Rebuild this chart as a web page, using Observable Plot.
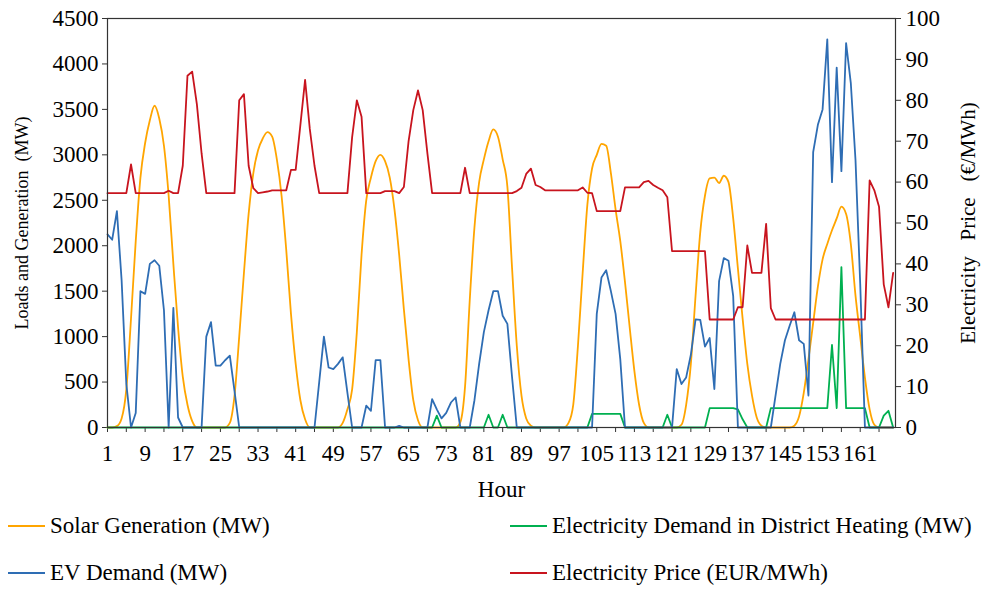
<!DOCTYPE html>
<html>
<head>
<meta charset="utf-8">
<script src="https://cdn.jsdelivr.net/npm/d3@7"></script>
<script src="https://cdn.jsdelivr.net/npm/@observablehq/plot@0.6"></script>
<style>
  body { margin: 0; background: #fff; font-family: "Liberation Serif", "Times New Roman", "DejaVu Serif", serif; }
  #chart svg { display: block; }
  .legend { position: relative; width: 992px; height: 84px; font-size: 23px; color: #000; }
  .item { position: absolute; display: flex; align-items: center; white-space: nowrap; }
  .sw { width: 37px; height: 2px; margin-right: 5px; }
</style>
</head>
<body>
<div id="chart"></div>
<div class="legend" id="legend"></div>
<script>
// ---- data (hours 1..168) ----
const hours = d3.range(1, 169);

const solarGeneration = [
  0, 0, 15, 100, 420, 1200, 2050, 2750, 3130, 3380, 3540, 3400, 3100, 2550, 1800, 1100, 560, 250, 70, 0,
  0, 0, 0, 0, 0, 0, 50, 350, 1000, 1700, 2350, 2800, 3050, 3180, 3250, 3200, 2950, 2550, 1950, 1250,
  700, 300, 90, 0, 0, 0, 0, 0, 0, 0, 50, 200, 420, 1050, 1900, 2500, 2750, 2930, 3000, 2930,
  2750, 2400, 1900, 1300, 750, 300, 80, 0, 0, 0, 0, 0, 0, 0, 0, 60, 450, 1400, 2200, 2700,
  2950, 3150, 3280, 3200, 2950, 2650, 1750, 900, 350, 100, 20, 0, 0, 0, 0, 0, 0, 0, 50, 250,
  900, 1700, 2450, 2850, 3000, 3120, 3100, 2800, 2400, 2050, 1600, 1100, 620, 250, 50, 0, 0, 0, 0, 0,
  0, 0, 30, 250, 700, 1450, 2150, 2550, 2740, 2750, 2690, 2770, 2700, 2300, 1750, 1200, 700, 350, 110, 20,
  0, 0, 0, 0, 0, 0, 20, 120, 380, 750, 1150, 1550, 1850, 2020, 2170, 2300, 2430, 2350, 2020, 1450,
  1000, 550, 200, 30, 0, 0, 0, 0
];

const evDemand = [
  2125, 2066, 2380, 1620, 480, 0, 160, 1500, 1470, 1800, 1840, 1780, 1290, 0, 1316, 110, 0, 0, 0, 0,
  0, 1000, 1160, 680, 680, 740, 790, 400, 0, 0, 0, 0, 0, 0, 0, 0, 0, 0, 0, 0,
  0, 0, 0, 0, 0, 500, 1000, 660, 643, 700, 772, 380, 0, 0, 0, 240, 184, 742, 742, 0,
  0, 0, 18, 0, 0, 0, 0, 0, 0, 312, 200, 100, 160, 275, 330, 0, 0, 0, 300, 700,
  1050, 1290, 1500, 1500, 1230, 1140, 550, 0, 0, 0, 0, 0, 0, 0, 0, 0, 0, 0, 0, 0,
  0, 0, 0, 0, 1250, 1650, 1730, 1500, 1250, 750, 0, 0, 0, 0, 0, 0, 0, 0, 0, 0,
  0, 643, 478, 551, 800, 1190, 1185, 890, 985, 423, 1610, 1864, 1835, 1445, 0, 0, 0, 0, 0, 0,
  0, 0, 350, 700, 960, 1120, 1268, 960, 920, 350, 3030, 3330, 3500, 4270, 2700, 3960, 2820, 4230, 3790, 2940,
  1580, 0, 0, 0, 0, 0, 0, 0
];

const districtHeating = [
  0, 0, 0, 0, 0, 0, 0, 0, 0, 0, 0, 0, 0, 0, 0, 0, 0, 0, 0, 0,
  0, 0, 0, 0, 0, 0, 0, 0, 0, 0, 0, 0, 0, 0, 0, 0, 0, 0, 0, 0,
  0, 0, 0, 0, 0, 0, 0, 0, 0, 0, 0, 0, 0, 0, 0, 0, 0, 0, 0, 0,
  0, 0, 0, 0, 0, 0, 0, 0, 0, 0, 130, 0, 0, 0, 0, 0, 0, 0, 0, 0,
  0, 140, 0, 0, 140, 0, 0, 0, 0, 0, 0, 0, 0, 0, 0, 0, 0, 0, 0, 0,
  0, 0, 0, 150, 150, 150, 150, 150, 150, 150, 0, 0, 0, 0, 0, 0, 0, 0, 0, 140,
  0, 0, 0, 0, 0, 0, 0, 0, 213, 213, 213, 213, 213, 213, 200, 90, 0, 0, 0, 0,
  0, 213, 213, 213, 213, 213, 213, 213, 213, 213, 213, 213, 213, 213, 908, 213, 1765, 213, 213, 213,
  213, 213, 0, 0, 0, 130, 184, 0
];

const electricityPrice = [
  57.3, 57.3, 57.3, 57.3, 57.3, 64.3, 57.3, 57.3, 57.3, 57.3, 57.3, 57.3, 57.3, 57.9, 57.3, 57.3, 64, 86, 87, 79,
  67, 57.3, 57.3, 57.3, 57.3, 57.3, 57.3, 57.3, 80, 81.5, 64, 58.5, 57.3, 57.5, 57.7, 58, 58, 58, 58, 63,
  63, 74, 85, 73, 64, 57.3, 57.3, 57.3, 57.3, 57.3, 57.3, 57.3, 71, 80, 76, 57.3, 57.3, 57.3, 57.3, 57.8,
  57.8, 57.8, 57.3, 58.8, 70, 77.6, 82.4, 77.6, 67, 57.3, 57.3, 57.3, 57.3, 57.3, 57.3, 57.3, 63.5, 57.3, 57.3, 57.3,
  57.3, 57.3, 57.3, 57.3, 57.3, 57.3, 57.3, 57.8, 58.6, 62, 63.3, 59.3, 58.8, 58, 58, 58, 58, 58, 58, 58,
  58, 58.7, 57.4, 57.3, 52.9, 52.9, 52.9, 52.9, 52.9, 52.9, 58.7, 58.7, 58.7, 58.7, 60, 60.3, 59.3, 58.6, 58, 56.3,
  43.1, 43.1, 43.1, 43.1, 43.1, 43.1, 43.1, 43.1, 26.4, 26.4, 26.4, 26.4, 26.4, 26.4, 29.4, 29.4, 44.5, 37.8, 37.8, 37.8,
  49.8, 29.2, 26.4, 26.4, 26.4, 26.4, 26.4, 26.4, 26.4, 26.4, 26.4, 26.4, 26.4, 26.4, 26.4, 26.4, 26.4, 26.4, 26.4, 26.4,
  26.4, 26.4, 60.4, 58, 54, 35, 29.4, 37.8
];

const loadTicks = d3.range(0, 4501, 500);
const priceTicks = d3.range(0, 101, 10);
const hourTicks = d3.range(1, 169, 4);

const seriesNames = {
  solar: "Solar Generation (MW)",
  dh: "Electricity Demand in District Heating (MW)",
  ev: "EV Demand (MW)",
  price: "Electricity Price (EUR/MWh)"
};
const leftTitle = "Loads and Generation\u00a0\u00a0(MW)";
const rightTitle = "Electricity\u00a0\u00a0\u00a0Price\u00a0\u00a0\u00a0(€/MWh)";
const xTitle = "Hour";
const colors = { solar: "#FFA500", dh: "#00B050", ev: "#2E6DB4", price: "#C8141E" };

// ---- build ----
const PRICE_TO_MW = 4500 / 100; // right axis 0..100 mapped onto left 0..4500
const rows = hours.map((h, i) => ({
  h,
  solar: solarGeneration[i],
  ev: evDemand[i],
  dh: districtHeating[i],
  price: electricityPrice[i] * PRICE_TO_MW
}));

const FONT = "'Liberation Serif', 'Times New Roman', 'DejaVu Serif', serif";

const chart = Plot.plot({
  width: 992,
  height: 505,
  marginLeft: 107,
  marginRight: 97,
  marginTop: 18,
  marginBottom: 78,
  x: { domain: [1, 168.5] },
  y: { domain: [0, 4500] },
  style: { fontFamily: FONT, fontSize: "23px", color: "#000", background: "#fff" },
  marks: [
    Plot.axisY({ ticks: loadTicks, tickFormat: d => String(d), tickSize: 5, tickPadding: 4, label: null, stroke: "#333" }),
    Plot.axisY({ anchor: "right", ticks: priceTicks.map(p => p * PRICE_TO_MW), tickFormat: d => String(Math.round(d / PRICE_TO_MW)), tickSize: 5, tickPadding: 5, label: null, stroke: "#333" }),
    Plot.axisX({ ticks: hourTicks, tickFormat: d => ((d - 1) % 8 === 0 ? String(d) : ""), tickSize: 5, tickPadding: 12, label: null, stroke: "#333" }),
    Plot.lineY(rows, { x: "h", y: "solar", stroke: colors.solar, strokeWidth: 1.8, curve: "monotone-x" }),
    Plot.lineY(rows, { x: "h", y: "dh", stroke: colors.dh, strokeWidth: 1.8 }),
    Plot.lineY(rows, { x: "h", y: "ev", stroke: colors.ev, strokeWidth: 1.8 }),
    Plot.lineY(rows, { x: "h", y: "price", stroke: colors.price, strokeWidth: 1.8 }),
    Plot.frame({ stroke: "#333", strokeWidth: 1.2 }),
    Plot.text([leftTitle], { text: d => d, frameAnchor: "left", textAnchor: "middle", dx: -85, rotate: -90, fontSize: 18 }),
    Plot.text([rightTitle], { text: d => d, frameAnchor: "right", textAnchor: "middle", dx: 73, rotate: -90, fontSize: 21 }),
    Plot.text([xTitle], { text: d => d, frameAnchor: "bottom", dy: 69, fontSize: 23 })
  ]
});
document.getElementById("chart").appendChild(chart);

// ---- legend ----
const legendItems = [
  { key: "solar", left: 8, top: 21 },
  { key: "dh", left: 510, top: 21 },
  { key: "ev", left: 8, top: 68 },
  { key: "price", left: 510, top: 68 }
];
const legend = document.getElementById("legend");
for (const it of legendItems) {
  const div = document.createElement("div");
  div.className = "item";
  div.style.left = it.left + "px";
  div.style.top = (it.top - 14) + "px";
  div.style.height = "28px";
  const sw = document.createElement("span");
  sw.className = "sw";
  sw.style.background = colors[it.key];
  const tx = document.createElement("span");
  tx.textContent = seriesNames[it.key];
  div.appendChild(sw);
  div.appendChild(tx);
  legend.appendChild(div);
}
</script>
</body>
</html>
